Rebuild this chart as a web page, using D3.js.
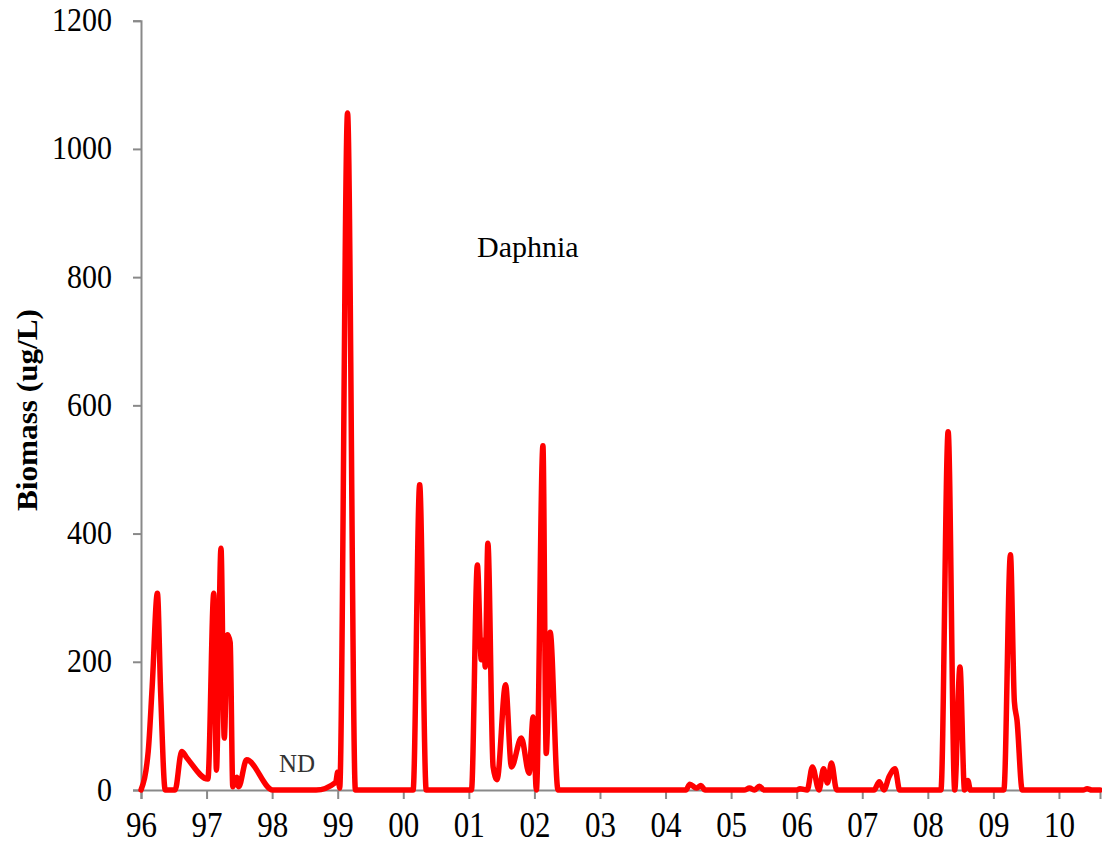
<!DOCTYPE html>
<html>
<head>
<meta charset="utf-8">
<script src="https://cdn.jsdelivr.net/npm/d3@7/dist/d3.min.js"></script>
<style>
  html, body { margin: 0; padding: 0; background: #fff; }
  svg { display: block; }
</style>
</head>
<body>
<svg id="chart" width="1102" height="845"></svg>
<script>
// ---- data (decimal year, biomass ug/L) ----
const times = [
  1996.00, 1996.11, 1996.17, 1996.25, 1996.30, 1996.37, 1996.52, 1996.62, 1996.70,
  1997.02, 1997.11, 1997.15, 1997.22, 1997.27, 1997.32, 1997.36, 1997.40, 1997.46,
  1997.49, 1997.61, 1998.01, 1998.67, 1998.97, 1999.00, 1999.03, 1999.15, 1999.27,
  2000.15, 2000.25, 2000.35, 2001.04, 2001.13, 2001.19, 2001.23, 2001.25, 2001.29,
  2001.37, 2001.43, 2001.56, 2001.65, 2001.80, 2001.92, 2001.98, 2002.03, 2002.13,
  2002.18, 2002.24, 2002.36, 2004.31, 2004.37, 2004.47, 2004.54, 2004.60, 2005.20,
  2005.28, 2005.36, 2005.43, 2005.50, 2006.00, 2006.05, 2006.16, 2006.24, 2006.34,
  2006.41, 2006.47, 2006.53, 2006.61, 2007.18, 2007.26, 2007.33, 2007.41, 2007.50,
  2007.57, 2008.20, 2008.31, 2008.41, 2008.49, 2008.56, 2008.61, 2008.65, 2009.16,
  2009.26, 2009.32, 2009.36, 2009.44, 2010.37, 2010.43, 2010.50, 2010.63
];
const biomass = [
  0, 60, 160, 307, 151, 0, 0, 60, 50,
  17, 307, 31, 377, 81, 242, 230, 5, 20,
  5, 47, 0, 0, 12, 28, 3, 1056, 0,
  0, 476, 0, 0, 351, 203, 234, 192, 385,
  36, 16, 164, 36, 81, 26, 114, 0, 537,
  57, 246, 0, 0, 9, 3, 7, 0, 0,
  3, 0, 6, 0, 0, 2, 0, 36, 0,
  33, 11, 42, 0, 0, 13, 0, 21, 33,
  0, 0, 559, 0, 192, 0, 15, 0, 0,
  367, 138, 109, 0, 0, 2, 0, 0
];
const xTickYears = [1996,1997,1998,1999,2000,2001,2002,2003,2004,2005,2006,2007,2008,2009,2010];
const xTickLabels = ["96","97","98","99","00","01","02","03","04","05","06","07","08","09","10"];
const yTicks = [0, 200, 400, 600, 800, 1000, 1200];
const yTitle = "Biomass (ug/L)";
const seriesName = "Daphnia";
const gapNote = "ND";

// ---- layout ----
const svg = d3.select("#chart");
const mLeft = 141, mRight = 1100, mTop = 20.7, mBottom = 790;

const x = d3.scaleLinear().domain([1996, 2010.626]).range([mLeft, mRight]);
const y = d3.scaleLinear().domain([0, 1200]).range([mBottom, mTop]);

const axisColor = "#898989";
const font = "'Liberation Serif', 'Times New Roman', serif";

// y axis
const yAxis = svg.append("g").attr("transform", `translate(${mLeft},0)`)
  .call(d3.axisLeft(y).tickValues(yTicks).tickSize(8).tickPadding(21).tickFormat(d3.format("d")));
yAxis.select(".domain").attr("stroke", axisColor).attr("stroke-width", 2);
yAxis.selectAll(".tick line").attr("stroke", axisColor).attr("stroke-width", 2);
yAxis.selectAll(".tick text")
  .attr("font-family", font).attr("font-size", 30).attr("fill", "#000")
  .attr("x", null).attr("dy", null)
  .attr("transform", "translate(-29,10) scale(1,1.1)");

// x axis
const xAxis = svg.append("g").attr("transform", `translate(0,${mBottom})`)
  .call(d3.axisBottom(x).tickValues(xTickYears).tickSize(9).tickPadding(12)
    .tickFormat((d, i) => xTickLabels[i]));
xAxis.select(".domain").attr("stroke", axisColor).attr("stroke-width", 2);
xAxis.selectAll(".tick line").attr("stroke", axisColor).attr("stroke-width", 2);
xAxis.selectAll(".tick text")
  .attr("font-family", font).attr("font-size", 31).attr("fill", "#000")
  .attr("y", null).attr("dy", null)
  .attr("transform", "translate(0,47) scale(1,1.15)");

// line
const data = times.map((t, i) => ({ t, v: biomass[i] }));
const line = d3.line().x(d => x(d.t)).y(d => y(d.v)).curve(d3.curveMonotoneX);
svg.append("path").datum(data)
  .attr("d", line)
  .attr("fill", "none")
  .attr("stroke", "#ff0000")
  .attr("stroke-width", 5.5)
  .attr("stroke-linejoin", "round")
  .attr("stroke-linecap", "round");

// y title
svg.append("text")
  .attr("transform", `translate(37,410) rotate(-90) scale(1.04,1)`)
  .attr("text-anchor", "middle")
  .attr("font-family", font).attr("font-weight", "bold").attr("font-size", 30)
  .text(yTitle);

// series label
svg.append("text")
  .attr("x", 477).attr("y", 257)
  .attr("font-family", font).attr("font-size", 30)
  .text(seriesName);

// ND note
svg.append("text")
  .attr("x", 279).attr("y", 772)
  .attr("font-family", font).attr("font-size", 25).attr("fill", "#333")
  .text(gapNote);
</script>
</body>
</html>
